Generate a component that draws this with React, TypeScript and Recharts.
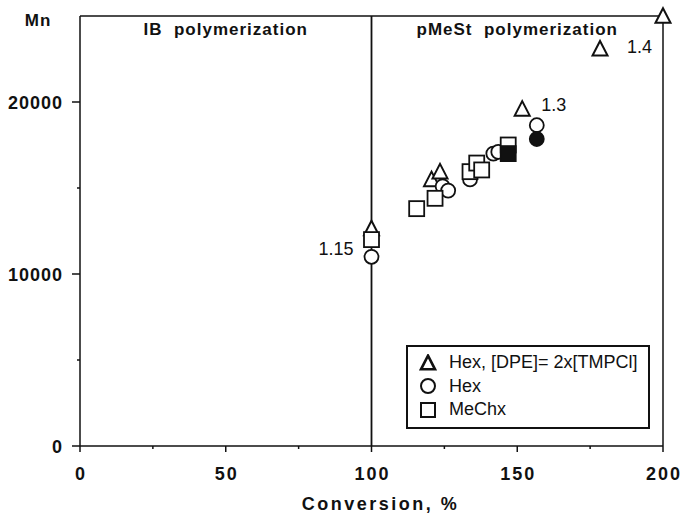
import React from "react";
import {
  ScatterChart,
  Scatter,
  XAxis,
  YAxis,
  ReferenceLine,
  ReferenceArea,
  Legend,
} from "recharts";

const FONT = '"Liberation Sans", Arial, Helvetica, sans-serif';
const INK = "#111";

// Hex, [DPE] = 2x[TMPCl]
const hexDpe = [
  { conversion: 100, mn: 12650 },
  { conversion: 120.6, mn: 15500 },
  { conversion: 123.5, mn: 15950 },
  { conversion: 151.7, mn: 19600 },
  { conversion: 178.4, mn: 23100 },
  { conversion: 200, mn: 25000 },
];

// Hex
const hex = [
  { conversion: 100, mn: 11000 },
  { conversion: 124.4, mn: 15100 },
  { conversion: 126.3, mn: 14850 },
  { conversion: 133.8, mn: 15500 },
  { conversion: 141.8, mn: 17000 },
  { conversion: 143.5, mn: 17100 },
  { conversion: 156.7, mn: 18650 },
  { conversion: 156.7, mn: 17850, filled: true },
];

// MeChx
const meChx = [
  { conversion: 100, mn: 12000 },
  { conversion: 115.5, mn: 13800 },
  { conversion: 121.8, mn: 14400 },
  { conversion: 133.8, mn: 15950 },
  { conversion: 136.1, mn: 16450 },
  { conversion: 137.8, mn: 16050 },
  { conversion: 146.9, mn: 17500 },
  { conversion: 146.9, mn: 17000, filled: true },
];

// polydispersity notes next to selected points
const notes = [
  { conversion: 100, mn: 12000, text: "1.15" },
  { conversion: 151.7, mn: 19600, text: "1.3" },
  { conversion: 178.4, mn: 23100, text: "1.4" },
];

const xTicks = [0, 25, 50, 75, 100, 125, 150, 175, 200];
const xMajor = [0, 50, 100, 150, 200];
const yTicks = [0, 5000, 10000, 15000, 20000];
const yMajor = [0, 10000, 20000];

const regions = [
  { from: 0, to: 100, title: "IB  polymerization" },
  { from: 100, to: 200, title: "pMeSt  polymerization" },
];

const noteOffset: Record<string, { dx: number; dy: number; anchor: string }> = {
  "1.15": { dx: -18, dy: 15, anchor: "end" },
  "1.3": { dx: 19, dy: 2, anchor: "start" },
  "1.4": { dx: 27, dy: 4, anchor: "start" },
};

const Triangle = ({ cx, cy, filled = false, size = 15, sw = 2 }: any) => {
  const h = size * 0.9;
  return (
    <path
      d={`M${cx},${cy - h / 2 - 1} L${cx + size / 2},${cy + h / 2} L${cx - size / 2},${cy + h / 2} Z`}
      fill={filled ? INK : "#fff"}
      stroke={INK}
      strokeWidth={sw}
      strokeLinejoin="miter"
    />
  );
};

const Circle = ({ cx, cy, filled = false, r = 7, sw = 1.8 }: any) => (
  <circle cx={cx} cy={cy} r={r} fill={filled ? INK : "#fff"} stroke={INK} strokeWidth={sw} />
);

const Square = ({ cx, cy, filled = false, size = 15, sw = 1.8 }: any) => (
  <rect
    x={cx - size / 2}
    y={cy - size / 2}
    width={size}
    height={size}
    fill={filled ? INK : "#fff"}
    stroke={INK}
    strokeWidth={sw}
  />
);

const triShape = (p: any) => <Triangle cx={p.cx} cy={p.cy} filled={p.payload?.filled} />;
const circleShape = (p: any) => <Circle cx={p.cx} cy={p.cy} filled={p.payload?.filled} />;
const squareShape = (p: any) => <Square cx={p.cx} cy={p.cy} filled={p.payload?.filled} />;

const noteShape = (p: any) => {
  const o = noteOffset[p.payload.text];
  return (
    <text
      x={p.cx + o.dx}
      y={p.cy + o.dy}
      textAnchor={o.anchor as any}
      fontFamily={FONT}
      fontSize={18}
      fill={INK}
    >
      {p.payload.text}
    </text>
  );
};

const XTick = (props: any) => {
  const { x, y, payload } = props;
  const major = xMajor.includes(payload.value);
  return (
    <g>
      <line x1={x} x2={x} y1={y} y2={y + (major ? 6 : 3)} stroke={INK} strokeWidth={1.5} />
      {major && (
        <text
          x={x + 1}
          y={y + 34}
          textAnchor="middle"
          fontFamily={FONT}
          fontSize={18}
          fontWeight="bold"
          letterSpacing={2}
          fill={INK}
        >
          {payload.value}
        </text>
      )}
    </g>
  );
};

const YTick = (props: any) => {
  const { x, y, payload } = props;
  const major = yMajor.includes(payload.value);
  return (
    <g>
      <line x1={x} x2={x - (major ? 8 : 3)} y1={y} y2={y} stroke={INK} strokeWidth={1.5} />
      {major && (
        <text
          x={x - 17}
          y={y + 7}
          textAnchor="end"
          fontFamily={FONT}
          fontSize={18}
          fontWeight="bold"
          letterSpacing={1}
          fill={INK}
        >
          {payload.value}
        </text>
      )}
    </g>
  );
};

const legendRows = [
  { label: "Hex, [DPE]= 2x[TMPCl]", Icon: Triangle, props: { sw: 2.6, size: 14 } },
  { label: "Hex", Icon: Circle, props: { r: 7, sw: 2 } },
  { label: "MeChx", Icon: Square, props: { size: 14, sw: 2 } },
];

const LegendBox = () => (
  <div
    style={{
      boxSizing: "border-box",
      width: 244,
      height: 84,
      border: `2px solid ${INK}`,
      background: "#fff",
      paddingTop: 4,
      fontFamily: FONT,
      fontSize: 18,
      color: INK,
    }}
  >
    {legendRows.map(({ label, Icon, props }) => (
      <div key={label} style={{ display: "flex", alignItems: "center", height: 23.5 }}>
        <svg width={18} height={18} style={{ marginLeft: 11, marginRight: 12 }}>
          <Icon cx={9} cy={9} {...props} />
        </svg>
        <span style={{ whiteSpace: "pre" }}>{label}</span>
      </div>
    ))}
  </div>
);

const regionTitle = (title: string) => (p: any) => {
  const vb = p.viewBox;
  return (
    <text
      x={vb.x + vb.width / 2}
      y={vb.y + 19}
      textAnchor="middle"
      fontFamily={FONT}
      fontSize={17}
      fontWeight="bold"
      letterSpacing={1}
      fill={INK}
      style={{ whiteSpace: "pre" }}
    >
      {title}
    </text>
  );
};

const App: React.FC = () => (
  <div style={{ position: "absolute", left: 0, top: 0, width: 687, height: 521, background: "#fff" }}>
    <ScatterChart width={687} height={521} margin={{ top: 16, right: 24, bottom: 0, left: 0 }}>
      <XAxis
        type="number"
        dataKey="conversion"
        domain={[0, 200]}
        ticks={xTicks}
        interval={0}
        height={75}
        tickSize={0}
        tickMargin={0}
        tickLine={false}
        tick={<XTick />}
        stroke={INK}
        strokeWidth={1.5}
        label={(p: any) => (
          <text
            x={p.viewBox.x + p.viewBox.width / 2 + 9}
            y={p.viewBox.y + 64}
            textAnchor="middle"
            fontFamily={FONT}
            fontSize={18}
            fontWeight="bold"
            letterSpacing={2.5}
            fill={INK}
          >
            Conversion, %
          </text>
        )}
      />
      <YAxis
        type="number"
        dataKey="mn"
        domain={[0, 25000]}
        ticks={yTicks}
        interval={0}
        width={80}
        tickSize={0}
        tickMargin={0}
        tickLine={false}
        tick={<YTick />}
        stroke={INK}
        strokeWidth={1.5}
        label={(p: any) => (
          <text
            x={p.viewBox.x + 38}
            y={p.viewBox.y + 10}
            textAnchor="middle"
            fontFamily={FONT}
            fontSize={17}
            fontWeight="bold"
            letterSpacing={1}
            fill={INK}
          >
            Mn
          </text>
        )}
      />
      {regions.map((r) => (
        <ReferenceArea
          key={r.title}
          x1={r.from}
          x2={r.to}
          y1={0}
          y2={25000}
          fill="none"
          stroke="none"
          label={regionTitle(r.title)}
        />
      ))}
      <ReferenceLine y={25000} stroke={INK} strokeWidth={1.5} />
      <ReferenceLine x={200} stroke={INK} strokeWidth={1.5} />
      <ReferenceLine x={100} stroke={INK} strokeWidth={1.8} />
      <Legend
        layout="vertical"
        align="center"
        verticalAlign="middle"
        content={<LegendBox />}
        wrapperStyle={{ left: 406, top: 345, width: 244, height: 84 }}
      />
      <Scatter name="notes" data={notes} shape={noteShape} legendType="none" isAnimationActive={false} />
      <Scatter name="Hex, [DPE]= 2x[TMPCl]" data={hexDpe} shape={triShape} isAnimationActive={false} />
      <Scatter name="Hex" data={hex} shape={circleShape} isAnimationActive={false} />
      <Scatter name="MeChx" data={meChx} shape={squareShape} isAnimationActive={false} />
    </ScatterChart>
  </div>
);

export default App;
